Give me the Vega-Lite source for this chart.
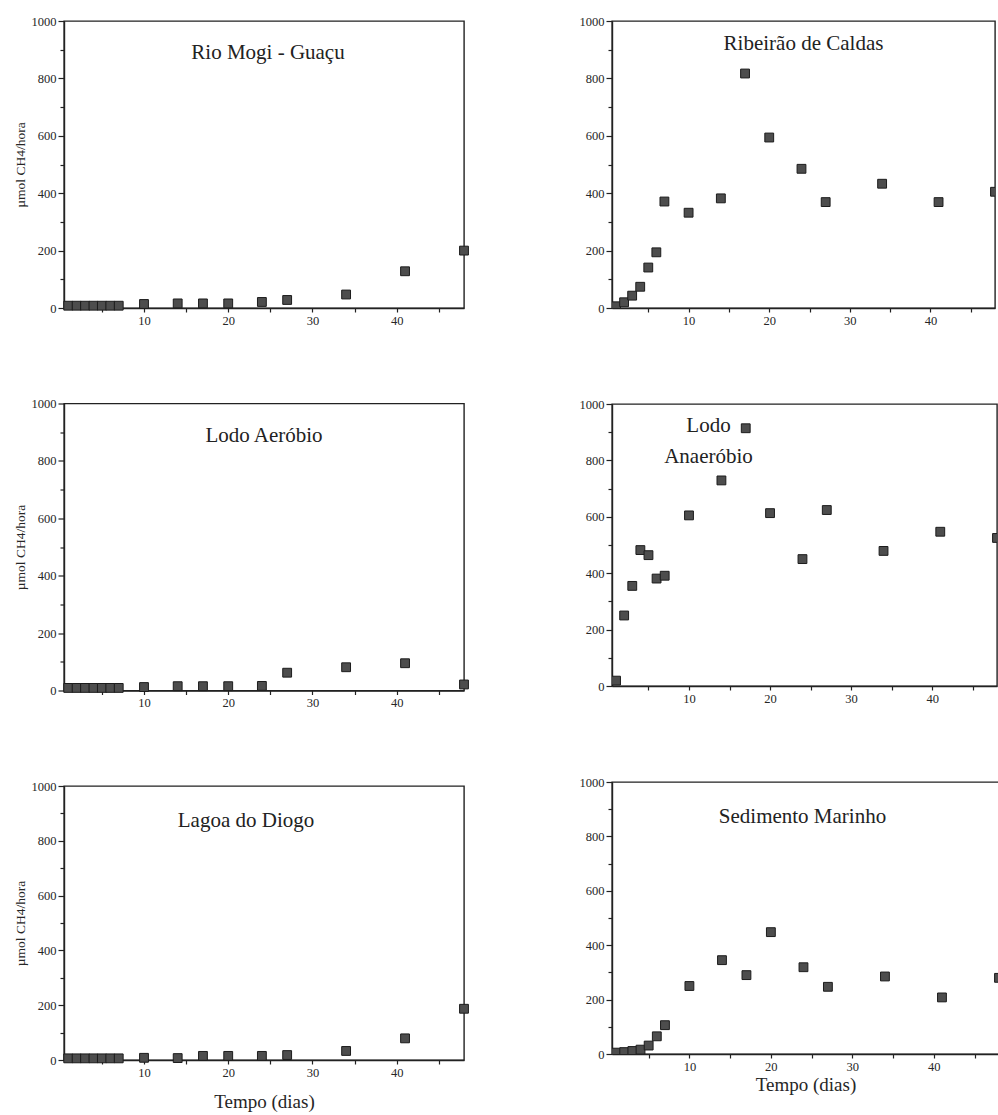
{
  "$schema": "https://vega.github.io/schema/vega-lite/v6.json",
  "background": "white",
  "padding": {"left": 12, "top": 14, "right": 0, "bottom": 0},
  "config": {
    "font": "Liberation Serif",
    "view": {"stroke": "#222222", "strokeWidth": 1.4},
    "axis": {
      "labelFont": "Liberation Serif",
      "labelFontSize": 12.5,
      "labelColor": "#262626",
      "labelPadding": 2,
      "titleFont": "Liberation Serif",
      "titleFontWeight": "normal",
      "titleColor": "#262626",
      "domainColor": "#222222",
      "domainWidth": 1.4,
      "tickColor": "#222222",
      "tickWidth": 1.2,
      "grid": false,
      "labelOverlap": false,
      "labelFlush": false
    },
    "title": {
      "font": "Liberation Serif",
      "fontSize": 21,
      "fontWeight": "normal",
      "color": "#222222",
      "anchor": "middle",
      "frame": "group",
      "baseline": "alphabetic"
    }
  },
  "datasets": {
    "medidas": [
      {"amostra": "Rio Mogi - Guaçu", "dia": 1, "taxa": 8},
      {"amostra": "Rio Mogi - Guaçu", "dia": 2, "taxa": 8},
      {"amostra": "Rio Mogi - Guaçu", "dia": 3, "taxa": 8},
      {"amostra": "Rio Mogi - Guaçu", "dia": 4, "taxa": 8},
      {"amostra": "Rio Mogi - Guaçu", "dia": 5, "taxa": 8},
      {"amostra": "Rio Mogi - Guaçu", "dia": 6, "taxa": 8},
      {"amostra": "Rio Mogi - Guaçu", "dia": 7, "taxa": 8},
      {"amostra": "Rio Mogi - Guaçu", "dia": 10, "taxa": 14},
      {"amostra": "Rio Mogi - Guaçu", "dia": 14, "taxa": 16},
      {"amostra": "Rio Mogi - Guaçu", "dia": 17, "taxa": 16},
      {"amostra": "Rio Mogi - Guaçu", "dia": 20, "taxa": 16},
      {"amostra": "Rio Mogi - Guaçu", "dia": 24, "taxa": 21},
      {"amostra": "Rio Mogi - Guaçu", "dia": 27, "taxa": 28},
      {"amostra": "Rio Mogi - Guaçu", "dia": 34, "taxa": 47},
      {"amostra": "Rio Mogi - Guaçu", "dia": 41, "taxa": 128},
      {"amostra": "Rio Mogi - Guaçu", "dia": 48, "taxa": 200},

      {"amostra": "Ribeirão de Caldas", "dia": 1, "taxa": 6},
      {"amostra": "Ribeirão de Caldas", "dia": 2, "taxa": 20},
      {"amostra": "Ribeirão de Caldas", "dia": 3, "taxa": 43},
      {"amostra": "Ribeirão de Caldas", "dia": 4, "taxa": 74},
      {"amostra": "Ribeirão de Caldas", "dia": 5, "taxa": 141},
      {"amostra": "Ribeirão de Caldas", "dia": 6, "taxa": 194},
      {"amostra": "Ribeirão de Caldas", "dia": 7, "taxa": 371},
      {"amostra": "Ribeirão de Caldas", "dia": 10, "taxa": 332},
      {"amostra": "Ribeirão de Caldas", "dia": 14, "taxa": 382},
      {"amostra": "Ribeirão de Caldas", "dia": 17, "taxa": 817},
      {"amostra": "Ribeirão de Caldas", "dia": 20, "taxa": 594},
      {"amostra": "Ribeirão de Caldas", "dia": 24, "taxa": 485},
      {"amostra": "Ribeirão de Caldas", "dia": 27, "taxa": 369},
      {"amostra": "Ribeirão de Caldas", "dia": 34, "taxa": 433},
      {"amostra": "Ribeirão de Caldas", "dia": 41, "taxa": 369},
      {"amostra": "Ribeirão de Caldas", "dia": 48, "taxa": 405},

      {"amostra": "Lodo Aeróbio", "dia": 1, "taxa": 9},
      {"amostra": "Lodo Aeróbio", "dia": 2, "taxa": 9},
      {"amostra": "Lodo Aeróbio", "dia": 3, "taxa": 9},
      {"amostra": "Lodo Aeróbio", "dia": 4, "taxa": 9},
      {"amostra": "Lodo Aeróbio", "dia": 5, "taxa": 9},
      {"amostra": "Lodo Aeróbio", "dia": 6, "taxa": 9},
      {"amostra": "Lodo Aeróbio", "dia": 7, "taxa": 9},
      {"amostra": "Lodo Aeróbio", "dia": 10, "taxa": 12},
      {"amostra": "Lodo Aeróbio", "dia": 14, "taxa": 15},
      {"amostra": "Lodo Aeróbio", "dia": 17, "taxa": 15},
      {"amostra": "Lodo Aeróbio", "dia": 20, "taxa": 15},
      {"amostra": "Lodo Aeróbio", "dia": 24, "taxa": 16},
      {"amostra": "Lodo Aeróbio", "dia": 27, "taxa": 62},
      {"amostra": "Lodo Aeróbio", "dia": 34, "taxa": 81},
      {"amostra": "Lodo Aeróbio", "dia": 41, "taxa": 95},
      {"amostra": "Lodo Aeróbio", "dia": 48, "taxa": 21},

      {"amostra": "Lodo Anaeróbio", "dia": 1, "taxa": 19},
      {"amostra": "Lodo Anaeróbio", "dia": 2, "taxa": 250},
      {"amostra": "Lodo Anaeróbio", "dia": 3, "taxa": 355},
      {"amostra": "Lodo Anaeróbio", "dia": 4, "taxa": 482},
      {"amostra": "Lodo Anaeróbio", "dia": 5, "taxa": 464},
      {"amostra": "Lodo Anaeróbio", "dia": 6, "taxa": 381},
      {"amostra": "Lodo Anaeróbio", "dia": 7, "taxa": 391},
      {"amostra": "Lodo Anaeróbio", "dia": 10, "taxa": 605},
      {"amostra": "Lodo Anaeróbio", "dia": 14, "taxa": 729},
      {"amostra": "Lodo Anaeróbio", "dia": 17, "taxa": 914},
      {"amostra": "Lodo Anaeróbio", "dia": 20, "taxa": 613},
      {"amostra": "Lodo Anaeróbio", "dia": 24, "taxa": 450},
      {"amostra": "Lodo Anaeróbio", "dia": 27, "taxa": 624},
      {"amostra": "Lodo Anaeróbio", "dia": 34, "taxa": 479},
      {"amostra": "Lodo Anaeróbio", "dia": 41, "taxa": 547},
      {"amostra": "Lodo Anaeróbio", "dia": 48, "taxa": 525},

      {"amostra": "Lagoa do Diogo", "dia": 1, "taxa": 6},
      {"amostra": "Lagoa do Diogo", "dia": 2, "taxa": 6},
      {"amostra": "Lagoa do Diogo", "dia": 3, "taxa": 6},
      {"amostra": "Lagoa do Diogo", "dia": 4, "taxa": 6},
      {"amostra": "Lagoa do Diogo", "dia": 5, "taxa": 6},
      {"amostra": "Lagoa do Diogo", "dia": 6, "taxa": 6},
      {"amostra": "Lagoa do Diogo", "dia": 7, "taxa": 6},
      {"amostra": "Lagoa do Diogo", "dia": 10, "taxa": 8},
      {"amostra": "Lagoa do Diogo", "dia": 14, "taxa": 7},
      {"amostra": "Lagoa do Diogo", "dia": 17, "taxa": 15},
      {"amostra": "Lagoa do Diogo", "dia": 20, "taxa": 15},
      {"amostra": "Lagoa do Diogo", "dia": 24, "taxa": 15},
      {"amostra": "Lagoa do Diogo", "dia": 27, "taxa": 18},
      {"amostra": "Lagoa do Diogo", "dia": 34, "taxa": 33},
      {"amostra": "Lagoa do Diogo", "dia": 41, "taxa": 79},
      {"amostra": "Lagoa do Diogo", "dia": 48, "taxa": 187},

      {"amostra": "Sedimento Marinho", "dia": 1, "taxa": 5},
      {"amostra": "Sedimento Marinho", "dia": 2, "taxa": 7},
      {"amostra": "Sedimento Marinho", "dia": 3, "taxa": 11},
      {"amostra": "Sedimento Marinho", "dia": 4, "taxa": 16},
      {"amostra": "Sedimento Marinho", "dia": 5, "taxa": 31},
      {"amostra": "Sedimento Marinho", "dia": 6, "taxa": 65},
      {"amostra": "Sedimento Marinho", "dia": 7, "taxa": 106},
      {"amostra": "Sedimento Marinho", "dia": 10, "taxa": 250},
      {"amostra": "Sedimento Marinho", "dia": 14, "taxa": 345},
      {"amostra": "Sedimento Marinho", "dia": 17, "taxa": 290},
      {"amostra": "Sedimento Marinho", "dia": 20, "taxa": 448},
      {"amostra": "Sedimento Marinho", "dia": 24, "taxa": 319},
      {"amostra": "Sedimento Marinho", "dia": 27, "taxa": 247},
      {"amostra": "Sedimento Marinho", "dia": 34, "taxa": 285},
      {"amostra": "Sedimento Marinho", "dia": 41, "taxa": 208},
      {"amostra": "Sedimento Marinho", "dia": 48, "taxa": 280}
    ]
  },
  "spacing": 106,
  "hconcat": [
    {
      "bounds": "flush",
      "spacing": 95.5,
      "vconcat": [
        {
          "width": 400,
          "height": 287,
          "title": {"text": "Rio  Mogi - Guaçu", "offset": -48, "dx": 4},
          "data": {"name": "medidas"},
          "transform": [{"filter": "datum.amostra === 'Rio Mogi - Guaçu'"}],
          "mark": {"type": "point", "shape": "square", "filled": true, "size": 78, "fill": "#4d4d4d", "stroke": "#1c1c1c", "strokeWidth": 1, "opacity": 1},
          "encoding": {
            "x": {"field": "dia", "type": "quantitative", "scale": {"domain": [0.5, 48], "nice": false, "zero": false},
              "axis": {"title": null, "values": [5, 10, 15, 20, 25, 30, 35, 40, 45], "labelExpr": "datum.value % 10 === 0 ? datum.label : ''", "tickSize": 4}},
            "y": {"field": "taxa", "type": "quantitative", "scale": {"domain": [0, 1000], "nice": false},
              "axis": {"title": "µmol CH4/hora", "titleFontSize": 13.5, "titlePadding": 4, "format": "d", "values": [0, 100, 200, 300, 400, 500, 600, 700, 800, 900, 1000], "labelExpr": "datum.value % 200 === 0 ? datum.label : ''", "tickSize": {"condition": {"test": "datum.value % 200 === 0", "value": 6}, "value": 4}}}
          }
        },
        {
          "width": 400,
          "height": 287,
          "title": {"text": "Lodo Aeróbio", "offset": -48},
          "data": {"name": "medidas"},
          "transform": [{"filter": "datum.amostra === 'Lodo Aeróbio'"}],
          "mark": {"type": "point", "shape": "square", "filled": true, "size": 78, "fill": "#4d4d4d", "stroke": "#1c1c1c", "strokeWidth": 1, "opacity": 1},
          "encoding": {
            "x": {"field": "dia", "type": "quantitative", "scale": {"domain": [0.5, 48], "nice": false, "zero": false},
              "axis": {"title": null, "values": [5, 10, 15, 20, 25, 30, 35, 40, 45], "labelExpr": "datum.value % 10 === 0 ? datum.label : ''", "tickSize": 4}},
            "y": {"field": "taxa", "type": "quantitative", "scale": {"domain": [0, 1000], "nice": false},
              "axis": {"title": "µmol CH4/hora", "titleFontSize": 13.5, "titlePadding": 4, "format": "d", "values": [0, 100, 200, 300, 400, 500, 600, 700, 800, 900, 1000], "labelExpr": "datum.value % 200 === 0 ? datum.label : ''", "tickSize": {"condition": {"test": "datum.value % 200 === 0", "value": 6}, "value": 4}}}
          }
        },
        {
          "width": 400,
          "height": 274,
          "title": {"text": "Lagoa do Diogo", "offset": -51, "dx": -18},
          "data": {"name": "medidas"},
          "transform": [{"filter": "datum.amostra === 'Lagoa do Diogo'"}],
          "mark": {"type": "point", "shape": "square", "filled": true, "size": 78, "fill": "#4d4d4d", "stroke": "#1c1c1c", "strokeWidth": 1, "opacity": 1},
          "encoding": {
            "x": {"field": "dia", "type": "quantitative", "scale": {"domain": [0.5, 48], "nice": false, "zero": false},
              "axis": {"title": "Tempo (dias)", "titleFontSize": 19, "titlePadding": 14, "values": [5, 10, 15, 20, 25, 30, 35, 40, 45], "labelExpr": "datum.value % 10 === 0 ? datum.label : ''", "tickSize": 4}},
            "y": {"field": "taxa", "type": "quantitative", "scale": {"domain": [0, 1000], "nice": false},
              "axis": {"title": "µmol CH4/hora", "titleFontSize": 13.5, "titlePadding": 4, "format": "d", "values": [0, 100, 200, 300, 400, 500, 600, 700, 800, 900, 1000], "labelExpr": "datum.value % 200 === 0 ? datum.label : ''", "tickSize": {"condition": {"test": "datum.value % 200 === 0", "value": 6}, "value": 4}}}
          }
        }
      ]
    },
    {
      "bounds": "flush",
      "spacing": 96,
      "vconcat": [
        {
          "width": 383,
          "height": 287,
          "title": {"text": "Ribeirão de Caldas", "offset": -39},
          "data": {"name": "medidas"},
          "transform": [{"filter": "datum.amostra === 'Ribeirão de Caldas'"}],
          "mark": {"type": "point", "shape": "square", "filled": true, "size": 78, "fill": "#4d4d4d", "stroke": "#1c1c1c", "strokeWidth": 1, "opacity": 1, "clip": true},
          "encoding": {
            "x": {"field": "dia", "type": "quantitative", "scale": {"domain": [0.5, 48], "nice": false, "zero": false},
              "axis": {"title": null, "values": [5, 10, 15, 20, 25, 30, 35, 40, 45], "labelExpr": "datum.value % 10 === 0 ? datum.label : ''", "tickSize": 4}},
            "y": {"field": "taxa", "type": "quantitative", "scale": {"domain": [0, 1000], "nice": false},
              "axis": {"title": null, "format": "d", "values": [0, 100, 200, 300, 400, 500, 600, 700, 800, 900, 1000], "labelExpr": "datum.value % 200 === 0 ? datum.label : ''", "tickSize": {"condition": {"test": "datum.value % 200 === 0", "value": 6}, "value": 4}}}
          }
        },
        {
          "width": 385,
          "height": 282,
          "title": {"text": "Lodo", "subtitle": "Anaeróbio", "subtitleFont": "Liberation Serif", "subtitleFontSize": 21, "subtitleColor": "#222222", "subtitlePadding": 10, "offset": -69, "dx": -96},
          "data": {"name": "medidas"},
          "transform": [{"filter": "datum.amostra === 'Lodo Anaeróbio'"}],
          "mark": {"type": "point", "shape": "square", "filled": true, "size": 78, "fill": "#4d4d4d", "stroke": "#1c1c1c", "strokeWidth": 1, "opacity": 1, "clip": true},
          "encoding": {
            "x": {"field": "dia", "type": "quantitative", "scale": {"domain": [0.5, 48], "nice": false, "zero": false},
              "axis": {"title": null, "values": [5, 10, 15, 20, 25, 30, 35, 40, 45], "labelExpr": "datum.value % 10 === 0 ? datum.label : ''", "tickSize": 4}},
            "y": {"field": "taxa", "type": "quantitative", "scale": {"domain": [0, 1000], "nice": false},
              "axis": {"title": null, "format": "d", "values": [0, 100, 200, 300, 400, 500, 600, 700, 800, 900, 1000], "labelExpr": "datum.value % 200 === 0 ? datum.label : ''", "tickSize": {"condition": {"test": "datum.value % 200 === 0", "value": 6}, "value": 4}}}
          }
        },
        {
          "width": 387,
          "height": 272,
          "title": {"text": "Sedimento Marinho", "offset": -51, "dx": -3},
          "data": {"name": "medidas"},
          "transform": [{"filter": "datum.amostra === 'Sedimento Marinho'"}],
          "mark": {"type": "point", "shape": "square", "filled": true, "size": 78, "fill": "#4d4d4d", "stroke": "#1c1c1c", "strokeWidth": 1, "opacity": 1, "clip": true},
          "encoding": {
            "x": {"field": "dia", "type": "quantitative", "scale": {"domain": [0.5, 48], "nice": false, "zero": false},
              "axis": {"title": "Tempo (dias)", "titleFontSize": 19, "titlePadding": 3, "values": [5, 10, 15, 20, 25, 30, 35, 40, 45], "labelExpr": "datum.value % 10 === 0 ? datum.label : ''", "tickSize": 4}},
            "y": {"field": "taxa", "type": "quantitative", "scale": {"domain": [0, 1000], "nice": false},
              "axis": {"title": null, "format": "d", "values": [0, 100, 200, 300, 400, 500, 600, 700, 800, 900, 1000], "labelExpr": "datum.value % 200 === 0 ? datum.label : ''", "tickSize": {"condition": {"test": "datum.value % 200 === 0", "value": 6}, "value": 4}}}
          }
        }
      ]
    }
  ]
}
